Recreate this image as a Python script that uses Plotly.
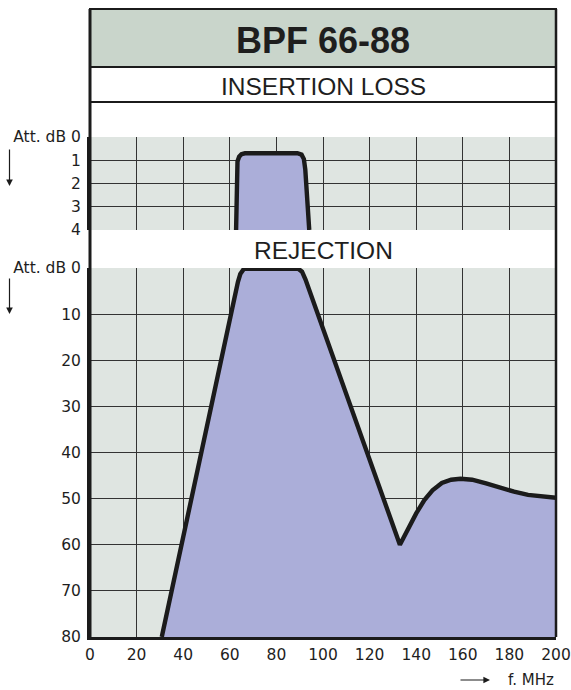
import plotly.graph_objects as go

# ---------------- data ----------------
il_freq = [62.7, 62.9, 63.3, 64.0, 65.0, 66.5, 89.0, 90.8, 91.8, 92.4, 94.1]
il_att = [4.0, 1.5, 1.05, 0.85, 0.74, 0.70, 0.70, 0.76, 0.95, 1.4, 4.0]

rej_freq = [30.8, 55.8, 62.0, 63.5, 64.5, 66.0, 89.5, 91.0, 92.5, 133.0,
            136.5, 140.0, 143.5, 147.0, 151.0, 155.0, 159.0, 164.0, 170.0,
            176.0, 182.0, 188.0, 194.0, 200.0]
rej_att = [80.0, 22.0, 6.5, 3.0, 1.3, 0.2, 0.2, 0.8, 2.5, 60.0,
           56.5, 53.2, 50.3, 48.2, 46.6, 45.9, 45.7, 45.9, 46.7,
           47.7, 48.5, 49.2, 49.6, 49.8]

x_ticks = [0, 20, 40, 60, 80, 100, 120, 140, 160, 180, 200]
il_ticks = [0, 1, 2, 3, 4]
il_ticklabels = ["Att. dB 0", "1", "2", "3", "4"]
rej_ticks = [0, 10, 20, 30, 40, 50, 60, 70, 80]
rej_ticklabels = ["Att. dB 0", "10", "20", "30", "40", "50", "60", "70", "80"]

title_text = "BPF 66-88"
il_title = "INSERTION LOSS"
rej_title = "REJECTION"
x_title = "f. MHz"

# ---------------- styling ----------------
W, H = 571, 690
def px(x):
    return x / W
def py(y):
    return 1 - y / H

LINE = "#1b1b1b"
FILL = "#abaed9"
BG = "#dfe5e1"
BAND = "#c9d5cb"
GRID = "#333333"
TXT = "#1e1e1e"
TICKFONT = dict(family="DejaVu Sans", size=15.5, color=TXT)

X0, X1 = 90, 556

fig = go.Figure()

fig.add_trace(go.Scatter(x=il_freq, y=il_att, xaxis="x", yaxis="y",
                         mode="none", fill="toself", fillcolor=FILL,
                         hoverinfo="skip", showlegend=False))
fig.add_trace(go.Scatter(x=il_freq, y=il_att, xaxis="x", yaxis="y",
                         mode="lines", line=dict(color=LINE, width=4.4),
                         showlegend=False))

rej_bottom = max(rej_ticks)
fill_x = rej_freq + [rej_freq[-1], rej_freq[0]]
fill_y = rej_att + [rej_bottom, rej_bottom]
fig.add_trace(go.Scatter(x=fill_x, y=fill_y, xaxis="x2", yaxis="y2",
                         mode="none", fill="toself", fillcolor=FILL,
                         hoverinfo="skip", showlegend=False))
fig.add_trace(go.Scatter(x=rej_freq, y=rej_att, xaxis="x2", yaxis="y2",
                         mode="lines", line=dict(color=LINE, width=4.4),
                         showlegend=False))

common_x = dict(range=[0, 200], tickvals=x_ticks, showgrid=True,
                gridcolor=GRID, gridwidth=1.2, zeroline=False,
                domain=[px(X0), px(X1)], fixedrange=True, automargin=False)

fig.update_layout(
    width=W, height=H, autosize=False,
    margin=dict(l=0, r=0, t=0, b=0, pad=0, autoexpand=False),
    paper_bgcolor="white", plot_bgcolor=BG,
    xaxis=dict(**common_x, anchor="y", showticklabels=False, ticks=""),
    yaxis=dict(range=[4, 0], tickvals=il_ticks, ticktext=il_ticklabels,
               domain=[py(230), py(137)], showgrid=True, gridcolor=GRID,
               gridwidth=1.2, zeroline=False, anchor="x",
               showline=True, linecolor=LINE, linewidth=3,
               ticks="", tickfont=TICKFONT, ticklabelstandoff=3,
               fixedrange=True, automargin=False),
    xaxis2=dict(**common_x, anchor="y2", showticklabels=True,
                showline=True, linecolor=LINE, linewidth=3,
                ticks="", tickfont=TICKFONT, ticklabelstandoff=1),
    yaxis2=dict(range=[80, 0], tickvals=rej_ticks, ticktext=rej_ticklabels,
                domain=[py(637), py(268)], showgrid=True, gridcolor=GRID,
                gridwidth=1.2, zeroline=False, anchor="x2",
                showline=True, linecolor=LINE, linewidth=3,
                ticks="", tickfont=TICKFONT, ticklabelstandoff=3,
                fixedrange=True, automargin=False),
)

shapes = [
    dict(type="rect", xref="paper", yref="paper", x0=px(X0), x1=px(X1),
         y0=py(67), y1=py(9), fillcolor=BAND, line=dict(color=LINE, width=2)),
    dict(type="rect", xref="paper", yref="paper", x0=px(X0), x1=px(X1),
         y0=py(102), y1=py(67), fillcolor="white", line=dict(color=LINE, width=2)),
    dict(type="line", xref="paper", yref="paper", x0=px(X0), x1=px(X0),
         y0=py(637), y1=py(9), line=dict(color=LINE, width=3)),
    dict(type="line", xref="paper", yref="paper", x0=px(X1), x1=px(X1),
         y0=py(637), y1=py(9), line=dict(color=LINE, width=2.5)),
]
fig.update_layout(shapes=shapes)

center = dict(xref="paper", yref="paper", showarrow=False,
              xanchor="center", yanchor="middle")
annotations = [
    dict(text="<b>" + title_text + "</b>", x=px((X0 + X1) / 2), y=py(40),
         font=dict(family="Liberation Sans", size=36, color=TXT), **center),
    dict(text=il_title, x=px((X0 + X1) / 2), y=py(87),
         font=dict(family="Liberation Sans", size=24.5, color=TXT), **center),
    dict(text=rej_title, x=px((X0 + X1) / 2), y=py(251),
         font=dict(family="Liberation Sans", size=24.5, color=TXT), **center),
    dict(text=x_title, x=px(556), y=py(680), xref="paper", yref="paper",
         xanchor="right", yanchor="middle", showarrow=False,
         font=dict(family="DejaVu Sans", size=15, color=TXT)),
    dict(text="", x=px(9.5), y=py(186), xref="paper", yref="paper",
         showarrow=True, ax=0, ay=-38, arrowhead=2, arrowsize=1.1,
         arrowwidth=1.2, arrowcolor=LINE),
    dict(text="", x=px(9.5), y=py(314), xref="paper", yref="paper",
         showarrow=True, ax=0, ay=-37, arrowhead=2, arrowsize=1.1,
         arrowwidth=1.2, arrowcolor=LINE),
    dict(text="", x=px(490), y=py(680), xref="paper", yref="paper",
         showarrow=True, ax=-31, ay=0, arrowhead=2, arrowsize=1.1,
         arrowwidth=1.2, arrowcolor=LINE),
]
fig.update_layout(annotations=annotations)

fig.write_html("out.html", config={"displayModeBar": False},
               post_script="document.body.style.margin='0';")
